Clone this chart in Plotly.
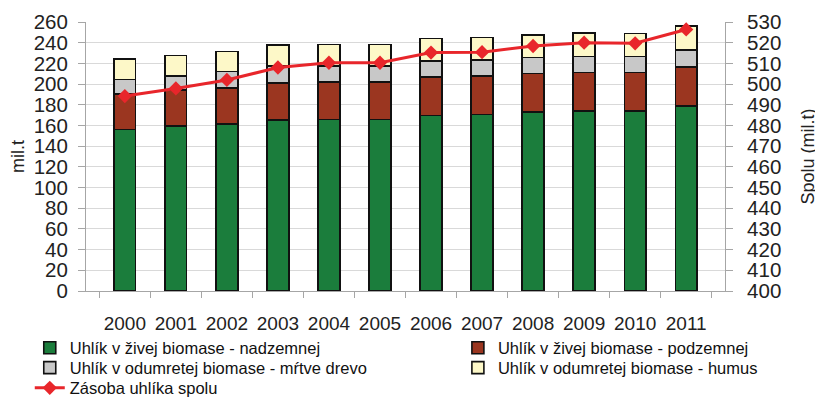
import plotly.graph_objects as go

years = ["2000", "2001", "2002", "2003", "2004", "2005", "2006", "2007", "2008", "2009", "2010", "2011"]
nadzemna = [156, 159.4, 161.7, 165.2, 165.9, 165.9, 169.8, 170.7, 173, 173.9, 173.9, 178.7]
podzemna = [34.7, 34.6, 34.8, 36.1, 36.1, 36.1, 37, 37, 37.3, 37.4, 37.4, 38.1]
mrtve_drevo = [13.8, 13.7, 15.5, 16.1, 15.4, 15.4, 15.4, 15.5, 15.2, 15.2, 15.2, 16.1]
humus = [20, 20, 19.3, 20.3, 21, 21, 22, 21.9, 21.8, 23.1, 22.5, 23.1]
spolu = [494.2, 497.9, 502, 508, 510.3, 510.3, 515.2, 515.4, 518.4, 520, 519.7, 526.4]

names = [
    "Uhlík v živej biomase - nadzemnej",
    "Uhlík v živej biomase - podzemnej",
    "Uhlík v odumretej biomase - mŕtve drevo",
    "Uhlík v odumretej biomase - humus",
    "Zásoba uhlíka spolu",
]
colors = ["#1b7d3c", "#9b3620", "#c8c8c8", "#fdf8c8", "#e8262b"]

FONT = "Liberation Sans, Arial, sans-serif"

fig = go.Figure()
series = [nadzemna, podzemna, mrtve_drevo, humus]
legend_ids = ["legend", "legend2", "legend3", "legend4", "legend5"]
for vals, nm, col, lg in zip(series, names[:4], colors[:4], legend_ids[:4]):
    fig.add_trace(go.Bar(
        x=years, y=vals, name=nm, legend=lg, showlegend=True,
        marker=dict(color=col, line=dict(color="#111111", width=1.6)),
        yaxis="y",
    ))

fig.add_trace(go.Scatter(
    x=years, y=spolu, name=names[4], legend="legend5", showlegend=True,
    mode="lines+markers",
    line=dict(color=colors[4], width=3),
    marker=dict(symbol="diamond", size=11, color=colors[4]),
    yaxis="y2",
))

col1_x, col2_x = -0.088, 0.582
row_y = [-0.212, -0.286, -0.361]
legend_pos = [(col1_x, row_y[0]), (col2_x, row_y[0]), (col1_x, row_y[1]),
              (col2_x, row_y[1]), (col1_x, row_y[2])]

layout_legends = {}
for lid, (lx, ly) in zip(legend_ids, legend_pos):
    layout_legends[lid] = dict(
        x=lx, xanchor="left", y=ly, yanchor="middle",
        orientation="v", font=dict(size=16.5, color="#111111"),
        bgcolor="rgba(0,0,0,0)", itemwidth=30, visible=True,
    )

# page body has an 8px default margin, so the figure is sized to fit the window
fig.update_layout(
    width=815, height=397,
    margin=dict(l=78, r=98, t=14, b=114, autoexpand=False),
    paper_bgcolor="white", plot_bgcolor="white",
    showlegend=True,
    barmode="stack", bargap=0.576,
    font=dict(family=FONT, size=18, color="#222222"),
    xaxis=dict(
        type="category", tickson="boundaries", ticks="outside", ticklen=6,
        tickcolor="#a6a6a6", showline=True, linecolor="#a6a6a6", linewidth=1,
        showgrid=False, tickfont=dict(size=19), ticklabelstandoff=15, tickangle=0,
    ),
    yaxis=dict(
        range=[0, 260], dtick=20, ticks="outside", ticklen=7, tickcolor="#a6a6a6",
        showline=True, linecolor="#a6a6a6", linewidth=1,
        gridcolor="#d9d9d9", gridwidth=1, zeroline=False,
        tickfont=dict(size=20.5), ticklabelstandoff=6,
        title=dict(text="mil.t", font=dict(size=18), standoff=5),
    ),
    yaxis2=dict(
        range=[400, 530], dtick=10, overlaying="y", side="right",
        ticks="outside", ticklen=7, tickcolor="#a6a6a6",
        showline=True, linecolor="#a6a6a6", linewidth=1,
        showgrid=False, zeroline=False,
        tickfont=dict(size=20.5), ticklabelstandoff=10,
        title=dict(text="Spolu (mil.t)", font=dict(size=18), standoff=21),
    ),
    **layout_legends,
)

fig.write_html("out.html")
